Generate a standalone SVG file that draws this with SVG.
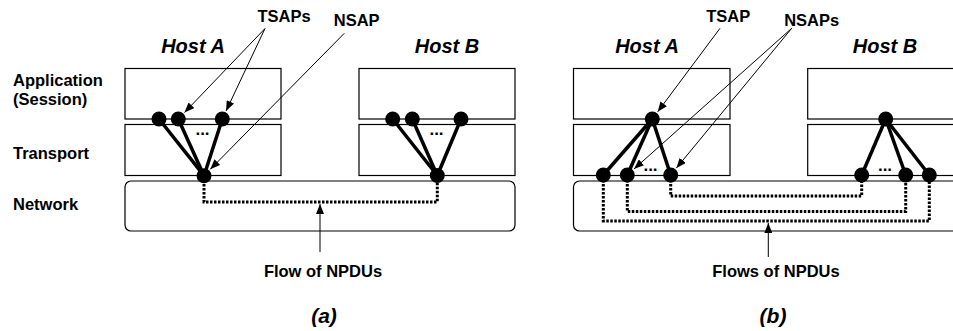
<svg xmlns="http://www.w3.org/2000/svg" width="953" height="331" viewBox="0 0 953 331">
<style>
text{font-family:"Liberation Sans",Arial,sans-serif;font-weight:bold;fill:#000}
.lbl{font-size:16.5px}
.host{font-size:20px;font-style:italic}
.cap{font-size:21px;font-style:italic}
.box{fill:#fff;stroke:#000;stroke-width:1.2}
.thick{stroke:#000;stroke-width:3.5;fill:none}
.thin{stroke:#000;stroke-width:1;fill:none;marker-end:url(#ah)}
.flow{stroke:#000;stroke-width:3;fill:none;stroke-dasharray:2.5 1.5}
.dot{fill:#000}
.ell{font-size:17px}
</style>
<defs>
<marker id="ah" markerUnits="userSpaceOnUse" markerWidth="10" markerHeight="8" refX="10" refY="4" orient="auto">
<path d="M0,0 L10,4 L0,8 z" fill="#000"/>
</marker>
</defs>

<g id="layer-labels">
<text class="lbl" x="13" y="86">Application</text>
<text class="lbl" x="13" y="104.5">(Session)</text>
<text class="lbl" x="13" y="159">Transport</text>
<text class="lbl" x="13" y="210">Network</text>
</g>

<g id="panel-a">
<g id="a-hostA">
<text class="host" x="193" y="53" text-anchor="middle">Host A</text>
<rect class="box" x="125" y="68.5" width="156" height="50.5"/>
<rect class="box" x="125" y="124.5" width="156" height="51"/>
</g>
<g id="a-hostB">
<text class="host" x="447" y="53" text-anchor="middle">Host B</text>
<rect class="box" x="359" y="68.5" width="156" height="50.5"/>
<rect class="box" x="359" y="124.5" width="156" height="51"/>
</g>
<g id="a-network">
<rect class="box" x="125" y="181" width="390" height="50" rx="6"/>
</g>
<g id="a-connectors">
<path class="flow" d="M204,176 V202 H437.3 V176"/>
<line class="thick" x1="159" y1="119" x2="204" y2="175.7"/>
<line class="thick" x1="178.3" y1="119" x2="204" y2="175.7"/>
<line class="thick" x1="222.3" y1="119" x2="204" y2="175.7"/>
<line class="thick" x1="392.7" y1="119" x2="437.3" y2="175.5"/>
<line class="thick" x1="412.3" y1="119" x2="437.3" y2="175.5"/>
<line class="thick" x1="461" y1="119" x2="437.3" y2="175.5"/>
<line class="thin" x1="265" y1="28.5" x2="184.5" y2="112.5"/>
<line class="thin" x1="265" y1="28.5" x2="226.1" y2="110.9"/>
<line class="thin" x1="344.3" y1="33.3" x2="210.3" y2="169.3"/>
<line class="thin" x1="320" y1="252" x2="320" y2="204"/>
</g>
<g id="a-dots">
<circle class="dot" cx="159" cy="119" r="7.5"/>
<circle class="dot" cx="178.3" cy="119" r="7.5"/>
<circle class="dot" cx="222.3" cy="119" r="7.5"/>
<circle class="dot" cx="204" cy="175.7" r="7.5"/>
<circle class="dot" cx="392.7" cy="119" r="7.5"/>
<circle class="dot" cx="412.3" cy="119" r="7.5"/>
<circle class="dot" cx="461" cy="119" r="7.5"/>
<circle class="dot" cx="437.3" cy="175.5" r="7.5"/>
<text class="ell" x="202.5" y="134.5" text-anchor="middle">...</text>
<text class="ell" x="436.5" y="134.5" text-anchor="middle">...</text>
</g>
<g id="a-labels">
<text class="lbl" x="284" y="21.7" text-anchor="middle">TSAPs</text>
<text class="lbl" x="356.7" y="26" text-anchor="middle">NSAP</text>
<text class="lbl" x="323" y="277" text-anchor="middle">Flow of NPDUs</text>
<text class="cap" x="324" y="323" text-anchor="middle">(a)</text>
</g>
</g>

<g id="panel-b">
<g id="b-hostA">
<text class="host" x="647" y="53" text-anchor="middle">Host A</text>
<rect class="box" x="573.5" y="68.5" width="156.5" height="50.5"/>
<rect class="box" x="573.5" y="124.5" width="156.5" height="51"/>
</g>
<g id="b-hostB">
<text class="host" x="885" y="53" text-anchor="middle">Host B</text>
<rect class="box" x="807.7" y="68.5" width="160" height="50.5"/>
<rect class="box" x="807.7" y="124.5" width="160" height="51"/>
</g>
<g id="b-network">
<rect class="box" x="573.5" y="181" width="400" height="50" rx="6"/>
</g>
<g id="b-connectors">
<path class="flow" d="M670.7,176 V196 H861.7 V176"/>
<path class="flow" d="M627.3,176 V211.5 H905.7 V176"/>
<path class="flow" d="M603.3,176 V221 H929.3 V176"/>
<line class="thick" x1="652.3" y1="119" x2="603.3" y2="175"/>
<line class="thick" x1="652.3" y1="119" x2="627.3" y2="175"/>
<line class="thick" x1="652.3" y1="119" x2="670.7" y2="175"/>
<line class="thick" x1="885.7" y1="119" x2="861.7" y2="175"/>
<line class="thick" x1="885.7" y1="119" x2="905.7" y2="175"/>
<line class="thick" x1="885.7" y1="119" x2="929.3" y2="175"/>
<line class="thin" x1="720" y1="28.3" x2="657.7" y2="111.8"/>
<line class="thin" x1="791.7" y1="28.3" x2="634" y2="169"/>
<line class="thin" x1="791.7" y1="28.3" x2="676.4" y2="168.1"/>
<line class="thin" x1="768.3" y1="257" x2="768.3" y2="223"/>
</g>
<g id="b-dots">
<circle class="dot" cx="652.3" cy="119" r="7.5"/>
<circle class="dot" cx="603.3" cy="175" r="7.5"/>
<circle class="dot" cx="627.3" cy="175" r="7.5"/>
<circle class="dot" cx="670.7" cy="175" r="7.5"/>
<circle class="dot" cx="885.7" cy="119" r="7.5"/>
<circle class="dot" cx="861.7" cy="175" r="7.5"/>
<circle class="dot" cx="905.7" cy="175" r="7.5"/>
<circle class="dot" cx="929.3" cy="175" r="7.5"/>
<text class="ell" x="650.5" y="170.5" text-anchor="middle">...</text>
<text class="ell" x="885" y="170.5" text-anchor="middle">...</text>
</g>
<g id="b-labels">
<text class="lbl" x="728.3" y="21.7" text-anchor="middle">TSAP</text>
<text class="lbl" x="811.7" y="26" text-anchor="middle">NSAPs</text>
<text class="lbl" x="776" y="277" text-anchor="middle">Flows of NPDUs</text>
<text class="cap" x="773" y="323" text-anchor="middle">(b)</text>
</g>
</g>
</svg>
